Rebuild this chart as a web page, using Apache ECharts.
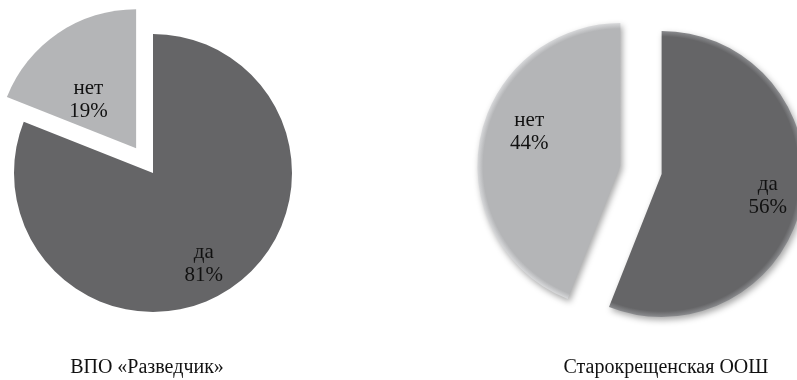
<!DOCTYPE html>
<html>
<head>
<meta charset="utf-8">
<script src="https://cdn.jsdelivr.net/npm/echarts@6/dist/echarts.min.js"></script>
<style>
  html, body { margin: 0; padding: 0; background: #fff; }
  #chart { width: 797px; height: 380px; }
</style>
</head>
<body>
<div id="chart"></div>
<script>
// Answer categories and shares per organisation
const categories = ['да', 'нет'];
const razvedchikShares = [81, 19];
const starokrShares = [56, 44];
const pieTitles = ['ВПО «Разведчик»', 'Старокрещенская ООШ'];

const darkGrey = '#656567';
const lightGrey = '#b4b5b7';
const serif = '"Liberation Serif", "Times New Roman", serif';

const leftCenter = [153, 173];
const leftRadius = 139;
const rightCenter = [641, 170];
const rightRadius = 143;

// Bevelled fill for the second pie: lighter rim at the outer edge
function bevel(color, rim) {
  return {
    type: 'radial',
    x: rightCenter[0], y: rightCenter[1], r: rightRadius,
    global: true,
    colorStops: [
      { offset: 0, color: color },
      { offset: 0.96, color: color },
      { offset: 1, color: rim }
    ]
  };
}

const labelBase = {
  show: true,
  position: 'inside',
  formatter: '{b}\n{c}%',
  fontFamily: serif,
  fontSize: 21,
  lineHeight: 23,
  color: '#111'
};

// Per-slice label nudges (pixels)
const leftOffsets = [[10, 31], [-7, 12]];
const rightOffsets = [[33, 8], [-18, -20]];

const leftData = categories.map((name, i) => ({
  name: name,
  value: razvedchikShares[i],
  selected: name === 'нет',
  itemStyle: { color: i === 0 ? darkGrey : lightGrey },
  label: { offset: leftOffsets[i] },
  select: { label: { offset: leftOffsets[i] } }
}));

const rightData = categories.map((name, i) => ({
  name: name,
  value: starokrShares[i],
  selected: true,
  itemStyle: { color: i === 0 ? bevel(darkGrey, '#8a8b8e') : bevel(lightGrey, '#d8d9db') },
  label: { offset: rightOffsets[i] },
  select: { label: { offset: rightOffsets[i] } }
}));

const chart = echarts.init(document.getElementById('chart'), null, { renderer: 'canvas' });

chart.setOption({
  backgroundColor: '#ffffff',
  animation: false,
  graphic: [
    {
      type: 'text', x: 147, y: 368,
      style: { text: pieTitles[0], font: '20px ' + serif, fill: '#111', textAlign: 'center', textVerticalAlign: 'middle' }
    },
    {
      type: 'text', x: 666, y: 368,
      style: { text: pieTitles[1], font: '20px ' + serif, fill: '#111', textAlign: 'center', textVerticalAlign: 'middle' }
    }
  ],
  series: [
    {
      type: 'pie',
      center: leftCenter,
      radius: [0, leftRadius],
      startAngle: 90,
      clockwise: true,
      selectedMode: 'multiple',
      selectedOffset: 30,
      avoidLabelOverlap: false,
      label: labelBase,
      labelLine: { show: false },
      emphasis: { disabled: true },
      itemStyle: { borderWidth: 0 },
      select: { itemStyle: { borderWidth: 0 } },
      data: leftData
    },
    {
      type: 'pie',
      center: rightCenter,
      radius: [0, rightRadius],
      startAngle: 90,
      clockwise: true,
      selectedMode: 'multiple',
      selectedOffset: 21,
      avoidLabelOverlap: false,
      label: labelBase,
      labelLine: { show: false },
      emphasis: { disabled: true },
      itemStyle: {
        borderWidth: 0,
        shadowColor: 'rgba(0,0,0,0.35)',
        shadowBlur: 6,
        shadowOffsetX: 2,
        shadowOffsetY: 3
      },
      select: { itemStyle: { borderWidth: 0 } },
      data: rightData
    }
  ]
});
</script>
</body>
</html>
